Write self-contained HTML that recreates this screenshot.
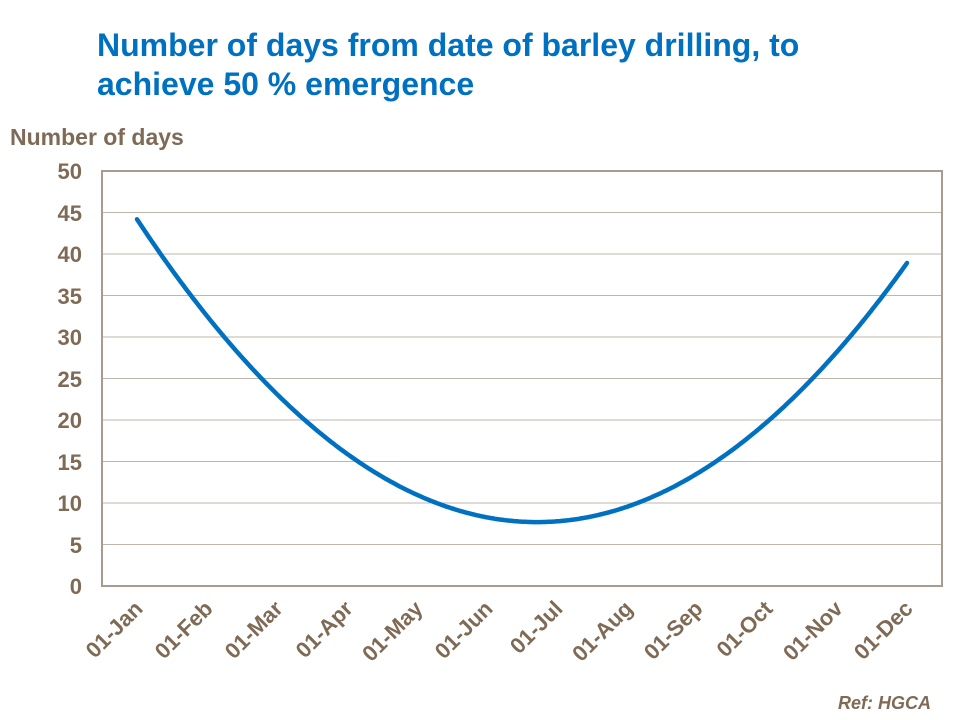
<!DOCTYPE html>
<html><head><meta charset="utf-8"><style>
body{margin:0;background:#fff;width:960px;height:720px;overflow:hidden}
svg{display:block}
.t{font-family:"Liberation Sans",sans-serif;font-weight:bold}
</style></head><body>
<svg width="960" height="720" xmlns="http://www.w3.org/2000/svg">
<text class="t" x="97" y="56" font-size="32" fill="#0070C0">Number of days from date of barley drilling, to</text>
<text class="t" x="97" y="95" font-size="32" fill="#0070C0">achieve 50 % emergence</text>
<text class="t" x="10" y="145" font-size="23" fill="#7F6A55">Number of days</text>
<g stroke="#BFB5AA" stroke-width="1">
<line x1="102" x2="942" y1="212.5" y2="212.5"/><line x1="102" x2="942" y1="254" y2="254"/>
<line x1="102" x2="942" y1="295.5" y2="295.5"/><line x1="102" x2="942" y1="337" y2="337"/>
<line x1="102" x2="942" y1="378.5" y2="378.5"/><line x1="102" x2="942" y1="420" y2="420"/>
<line x1="102" x2="942" y1="461.5" y2="461.5"/><line x1="102" x2="942" y1="503" y2="503"/>
<line x1="102" x2="942" y1="544.5" y2="544.5"/>
</g>
<rect x="102" y="171" width="840" height="415" fill="none" stroke="#A89C90" stroke-width="2"/>
<g class="t" font-size="22" fill="#7F6A55" text-anchor="end">
<text x="82" y="179">50</text><text x="82" y="221">45</text><text x="82" y="262">40</text>
<text x="82" y="304">35</text><text x="82" y="345">30</text><text x="82" y="387">25</text>
<text x="82" y="428">20</text><text x="82" y="470">15</text><text x="82" y="511">10</text>
<text x="82" y="553">5</text><text x="82" y="594">0</text>
</g>
<g id="xl" class="t" font-size="22" fill="#7F6A55" text-anchor="end"></g>
<path id="c" fill="none" stroke="#0070C0" stroke-width="4.5" stroke-linecap="round"/>
<text class="t" x="931" y="709" font-size="18" font-style="italic" fill="#7F6A55" text-anchor="end">Ref: HGCA</text>
</svg>
<script>
var m=["Jan","Feb","Mar","Apr","May","Jun","Jul","Aug","Sep","Oct","Nov","Dec"],g=document.getElementById("xl"),h="";
for(var i=0;i<12;i++){var x=144+i*70,y=610;h+='<text transform="translate('+x+','+y+') rotate(-45)">01-'+m[i]+'</text>';}
g.innerHTML=h;
var d="";
for(var x=137;x<=907;x+=2){var v=7.7+2.28e-4*(x-537)*(x-537);var y=586-v*8.3;d+=(d?" L":"M")+x+","+y.toFixed(1);}
document.getElementById("c").setAttribute("d",d);
</script>
</body></html>
